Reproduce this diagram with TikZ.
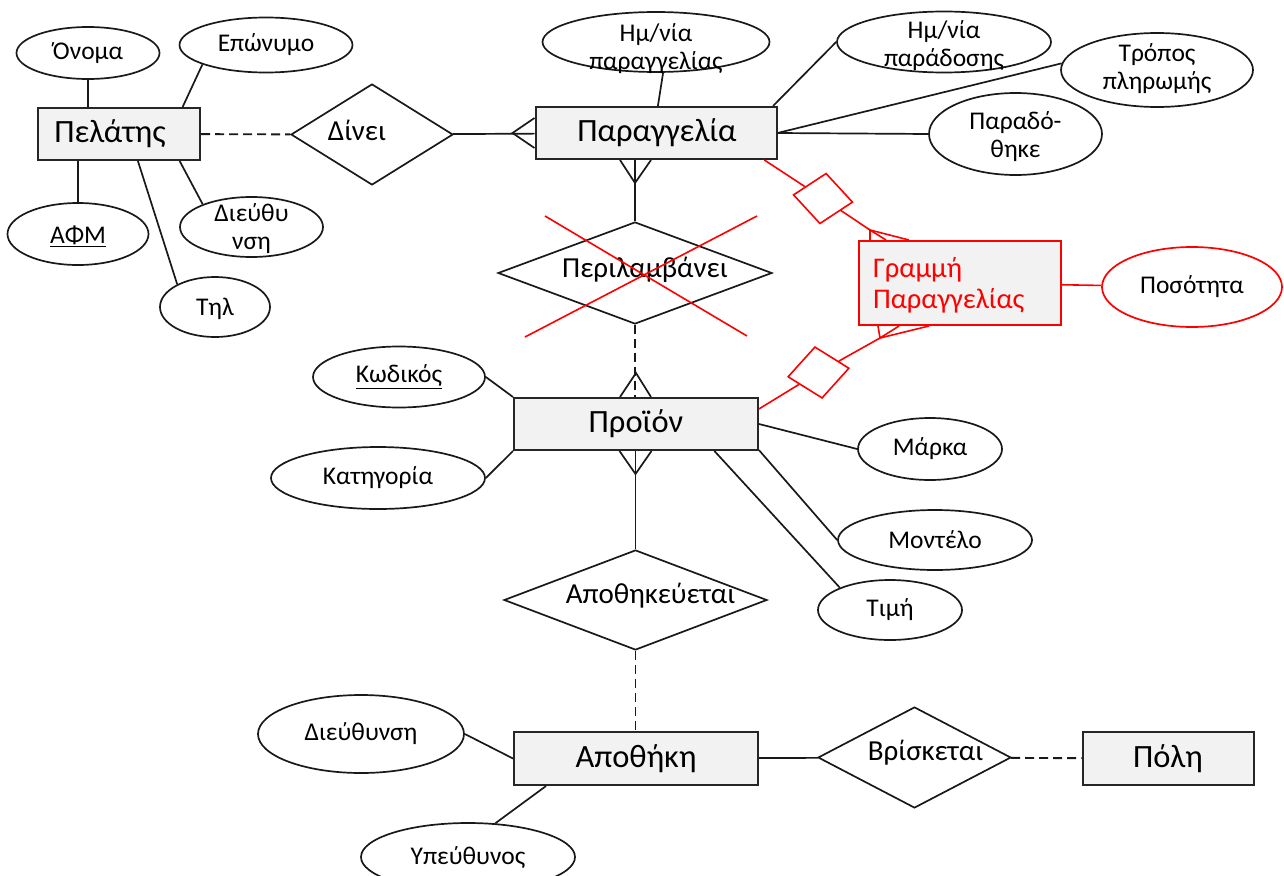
\documentclass[tikz,border=0pt]{standalone}
\usepackage{fontspec}
\setmainfont{Carlito}
\usetikzlibrary{shapes.geometric,calc}

% text centred on the node centre, shifted by (#1,#2), taking no room of its own
\newcommand\ctr[3]{\vbox to 0pt{\kern#2\kern#2\vss\hbox to 0pt{\hss\kern#1\kern#1#3\hss}\vss}}
% left-aligned text starting #1 from the node centre, shifted down by #2
\newcommand\ltx[3]{\vbox to 0pt{\kern#2\kern#2\vss\hbox to 0pt{\kern#1#3\hss}\vss}}
\newcommand\two[2]{\begin{tabular}{@{}c@{}}#1\\#2\end{tabular}}
\newcommand\entfont{\fontsize{32.5}{38}\selectfont}
\newcommand\relfont{\fontsize{29}{34}\selectfont}
\newcommand\attrfont{\fontsize{25.5}{28.5}\selectfont}

\tikzset{
  ent/.style 2 args={rectangle, draw=black!85, fill=black!5, line width=2pt,
    minimum width=#1, minimum height=#2, inner sep=0pt, font=\entfont},
  rel/.style 2 args={diamond, draw=black!90, line width=1.7pt,
    minimum width=#1, minimum height=#2, inner sep=0pt, font=\relfont},
  attr/.style 2 args={ellipse, draw=black!90, line width=1.7pt,
    minimum width=#1, minimum height=#2, inner sep=0pt, font=\attrfont},
  conn/.style={line width=1.7pt, draw=black!90},
  dconn/.style={conn, line width=1.9pt, dash pattern=on 9pt off 5pt},
  redl/.style={line width=1.6pt, draw=red},
  rdia/.style 2 args={diamond, draw=red, line width=1.6pt,
    minimum width=#1, minimum height=#2, inner sep=0pt},
}

\begin{document}
\begin{tikzpicture}[x=1pt, y=-1pt]
\useasboundingbox (0,0) rectangle (1284,875);
\clip (0,0) rectangle (1284,875);

% ---------- entities ----------
\node[ent={162}{52}] (pelatis) at (119,134) {\ctr{-9pt}{0pt}{Πελάτης}};
\node[ent={241}{52}] (parag) at (656,133) {\ctr{1pt}{0pt}{Παραγγελία}};
\node[ent={244}{52}] (proion) at (636,424) {\ctr{0pt}{0pt}{Προϊόν}};
\node[ent={244}{53}] (apothiki) at (636,758.5) {\ctr{0pt}{0pt}{Αποθήκη}};
\node[ent={171}{53}] (poli) at (1168,758.5) {\ctr{0pt}{0pt}{Πόλη}};
\node[ent={202}{84}, draw=red, font=\fontsize{28.5}{31}\selectfont, text=red] (grammi) at (960,283)
  {\ltx{-87pt}{4pt}{\begin{tabular}{@{}l@{}}Γραμμή\\Παραγγελίας\end{tabular}}};

% ---------- relationships ----------
\node[rel={162}{101}] (dinei) at (372,134.5) {\ctr{-15pt}{-4pt}{Δίνει}};
\node[rel={274}{102}] (perilamb) at (635,273) {\ctr{10pt}{-3pt}{Περιλαμβάνει}};
\node[rel={263}{100}] (apothrel) at (635.5,600) {\ctr{15pt}{-4pt}{Αποθηκεύεται}};
\node[rel={193}{101}] (vrisketai) at (914.5,757.5) {\ctr{11pt}{-5pt}{Βρίσκεται}};

% ---------- attributes ----------
\node[attr={143}{52}] (onoma) at (88,53) {\ctr{0pt}{0pt}{Όνομα}};
\node[attr={173}{55}] (eponymo) at (266,45) {\ctr{0pt}{0pt}{Επώνυμο}};
\node[attr={141}{62}] (afm) at (78,234) {\ctr{0pt}{2pt}{\underline{ΑΦΜ}}};
\node[attr={143}{60}] (dieuth1) at (251.5,227) {\ctr{0pt}{3pt}{\two{Διεύθυ}{νση}}};
\node[attr={110}{60}] (til) at (215,307) {\ctr{0pt}{2pt}{Τηλ}};
\node[attr={227}{60}] (hmpar) at (656,42) {\ctr{0pt}{8pt}{\two{Ημ/νία}{παραγγελίας}}};
\node[attr={214}{61}] (hmparad) at (944,42) {\ctr{0pt}{5pt}{\two{Ημ/νία}{παράδοσης}}};
\node[attr={192}{74}] (tropos) at (1157,70) {\ctr{0pt}{0pt}{\two{Τρόπος}{πληρωμής}}};
\node[attr={173}{82}] (paradothike) at (1015.5,134) {\ctr{0pt}{4pt}{\two{Παραδό-}{θηκε}}};
\node[attr={180}{80}, draw=red] (posotita) at (1192,287) {\ctr{0pt}{0pt}{Ποσότητα}};
\node[attr={172}{61}] (kodikos) at (399,377) {\ctr{0pt}{0pt}{\underline{Κωδικός}}};
\node[attr={214}{62}] (katigoria) at (378,478) {\ctr{0pt}{0pt}{Κατηγορία}};
\node[attr={144}{62}] (marka) at (930,449) {\ctr{0pt}{0pt}{Μάρκα}};
\node[attr={194}{60}] (montelo) at (935,540) {\ctr{0pt}{0pt}{Μοντέλο}};
\node[attr={144}{60}] (timi) at (890,610) {\ctr{0pt}{0pt}{Τιμή}};
\node[attr={206}{78}] (dieuth2) at (361,734) {\ctr{0pt}{0pt}{Διεύθυνση}};
\node[attr={214}{68}] (ypeuth) at (468,857) {\ctr{0pt}{0pt}{Υπεύθυνος}};

% ---------- attribute links ----------
\draw[conn] (onoma.south) -- (onoma.south |- pelatis.north);
\draw[conn] (eponymo.197) -- (pelatis.23);
\draw[conn] (afm.north) -- (afm.north |- pelatis.south);
\draw[conn] (dieuth1.155) -- (pelatis.-24);
\draw[conn] (til.149) -- (pelatis.-55);
\draw[conn] (hmpar.-77) -- (parag.86);
\draw[conn] (hmparad.west) -- (parag.13.7);
\draw[conn] (tropos.176) -- (parag.east);
\draw[conn] (paradothike.west) -- (parag.east);
\draw[conn] (kodikos.east) -- (proion.north west);
\draw[conn] (katigoria.east) -- (proion.south west);
\draw[conn] (proion.east) -- (marka.west);
\draw[conn] (proion.-12.85) -- (montelo.west);
\draw[conn] (proion.-19.85) -- (timi.156.7);
\draw[conn] (dieuth2.east) -- (apothiki.west);
\draw[conn] (ypeuth.51.5) -- (apothiki.-163.5);

% ---------- relationship links ----------
\draw[dconn] (pelatis) -- (dinei);
\draw[conn] (dinei) -- (parag);
\draw[conn] ($(parag.west)+(0,-15)$) -- ($(parag.west)+(-22,0)$) -- ($(parag.west)+(0,15)$);

\coordinate (fa) at (perilamb.north |- parag.south);
\draw[conn] (perilamb.north) -- (fa);
\draw[conn] ($(fa)+(-15,0)$) -- ($(fa)+(0,23)$) -- ($(fa)+(16,0)$);

\coordinate (fb) at (perilamb.south |- proion.north);
\draw[dconn] (perilamb.south) -- (fb);
\draw[conn] ($(fb)+(-15,0)$) -- ($(fb)+(1,-24)$) -- ($(fb)+(16,0)$);

\coordinate (fc) at (apothrel.north |- proion.south);
\draw[conn] (apothrel.north) -- (fc);
\draw[conn] ($(fc)+(-16,0)$) -- ($(fc)+(0,23)$) -- ($(fc)+(16,0)$);

\draw[dconn] (apothrel.south) -- (apothrel.south |- apothiki.north);
\draw[conn] (apothiki) -- (vrisketai);
\draw[dconn] (vrisketai) -- (poli);

% ---------- associative entity (red) ----------
\node[rdia={60}{51}, rotate=-7] (rd1) at (823,198.5) {};
\node[rdia={62}{52}, rotate=8] (rd2) at (818.5,372.5) {};
\coordinate (ra) at ($(grammi.north west)+(12,-10)$);
\coordinate (rb) at ($(grammi.south west)+(22,12)$);
\draw[redl] (parag.-14.3) -- (rd1);
\draw[redl] (rd1) -- (ra);
\draw[redl] ($(grammi.north west)+(12,0)$) -- (ra) -- ($(grammi.north west)+(28,0)$);
\draw[redl] (ra) -- ($(grammi.north west)+(51,0)$);
\draw[redl] (proion.7.5) -- (rd2);
\draw[redl] (rd2) -- (rb);
\draw[redl] ($(grammi.south west)+(20,0)$) -- (rb) -- ($(grammi.south west)+(41,0)$);
\draw[redl] (rb) -- ($(grammi.south west)+(71,0)$);
\draw[redl] (grammi) -- (posotita);

% crossed-out relationship
\draw[redl] ($(perilamb)+(-90,-57)$) -- ($(perilamb)+(112,63)$);
\draw[redl] ($(perilamb)+(122,-57)$) -- ($(perilamb)+(-110,64)$);
\end{tikzpicture}
\end{document}
